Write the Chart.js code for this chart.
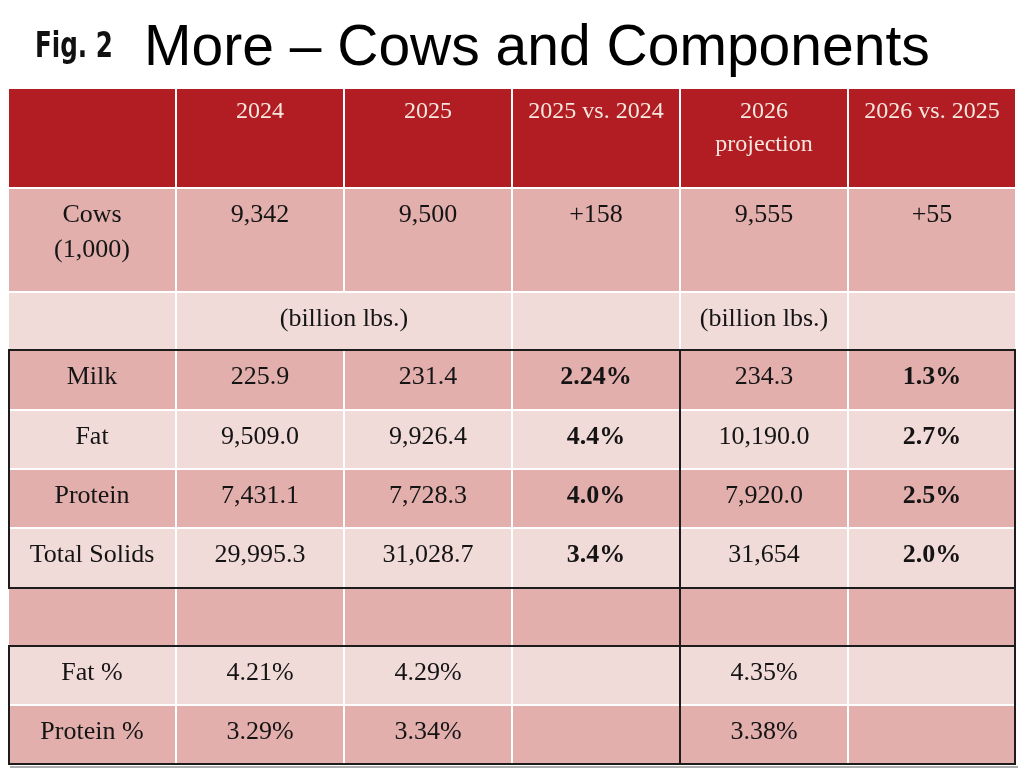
<!DOCTYPE html>
<html>
<head>
<meta charset="utf-8">
<script src="https://cdn.jsdelivr.net/npm/chart.js@4.4.1/dist/chart.umd.min.js"></script>
<style>
  html, body { margin: 0; padding: 0; background: #fff; }
  #wrap { position: relative; width: 1026px; height: 778px; }
  #fig { position: absolute; left: 35px; top: 27px; font: bold 36px/1 "Liberation Sans Narrow", "DejaVu Sans Condensed", sans-serif; color: #111; white-space: nowrap; transform: scaleX(0.76); transform-origin: left top; }
  #title { position: absolute; left: 144px; top: 17px; font: 57px/1 "Liberation Sans", Arial, sans-serif; color: #000; white-space: nowrap; }
</style>
</head>
<body>
<div id="wrap">
  <canvas id="myTable" width="1026" height="778"></canvas>
  <div id="fig">Fig. 2</div>
  <div id="title">More – Cows and Components</div>
</div>
<script>
// table contents
var columns = ['', '2024', '2025', '2025 vs. 2024', ['2026', 'projection'], '2026 vs. 2025'];
var cows = ['9,342', '9,500', '+158', '9,555', '+55'];
var unitLabel = '(billion lbs.)';
var products = ['Milk', 'Fat', 'Protein', 'Total Solids'];
var val2024 = ['225.9', '9,509.0', '7,431.1', '29,995.3'];
var val2025 = ['231.4', '9,926.4', '7,728.3', '31,028.7'];
var chg2025 = ['2.24%', '4.4%', '4.0%', '3.4%'];
var proj2026 = ['234.3', '10,190.0', '7,920.0', '31,654'];
var chg2026 = ['1.3%', '2.7%', '2.5%', '2.0%'];
var ratios = ['Fat %', 'Protein %'];
var ratio2024 = ['4.21%', '3.29%'];
var ratio2025 = ['4.29%', '3.34%'];
var ratio2026 = ['4.35%', '3.38%'];

// layout: row boundaries on the y scale
var rowEdges = [0, 100, 204, 262, 322, 381, 440, 500, 558, 617, 677];

var RED = 'rgb(177, 29, 35)';
var DARK = 'rgb(226, 175, 173)';
var LIGHT = 'rgb(241, 219, 216)';

// rows: text per column, background, which columns are bold
var rows = [];
rows.push({ cells: columns, bg: RED, header: true });
rows.push({ cells: [['Cows', '(1,000)']].concat(cows), bg: DARK });
rows.push({ cells: ['', unitLabel, '', '', unitLabel, ''], bg: LIGHT, merge: 1 });
for (var i = 0; i < products.length; i++) {
  rows.push({
    cells: [products[i], val2024[i], val2025[i], chg2025[i], proj2026[i], chg2026[i]],
    bg: i % 2 == 0 ? DARK : LIGHT,
    bold: [3, 5]
  });
}
rows.push({ cells: ['', '', '', '', '', ''], bg: DARK });
for (var j = 0; j < ratios.length; j++) {
  rows.push({
    cells: [ratios[j], ratio2024[j], ratio2025[j], '', ratio2026[j], ''],
    bg: j % 2 == 0 ? LIGHT : DARK
  });
}

var datasets = rows.map(function (row, r) {
  return {
    label: 'row' + r,
    data: columns.map(function () { return [rowEdges[r], rowEdges[r + 1]]; }),
    backgroundColor: row.bg,
    borderColor: '#ffffff',
    borderWidth: function (ctx) {
      var w = { top: 1, bottom: 1, left: 1, right: 1 };
      if (row.merge != null) {
        if (ctx.dataIndex == row.merge) w.right = 0;
        if (ctx.dataIndex == row.merge + 1) w.left = 0;
      }
      return w;
    },
    borderSkipped: false,
    inflateAmount: 0,
    grouped: false,
    categoryPercentage: 1,
    barPercentage: 1
  };
});

var SERIF = '"Liberation Serif", "DejaVu Serif", serif';

var cellText = {
  id: 'cellText',
  afterDatasetsDraw: function (chart) {
    var ctx = chart.ctx;
    ctx.save();
    ctx.textAlign = 'center';
    ctx.textBaseline = 'middle';
    rows.forEach(function (row, r) {
      var meta = chart.getDatasetMeta(r);
      row.cells.forEach(function (txt, c) {
        if (!txt) return;
        var el = meta.data[c];
        var x = el.x;
        if (row.merge == c) x = (meta.data[c].x + meta.data[c + 1].x) / 2;
        var top = Math.min(el.y, el.base);
        var lines = Array.isArray(txt) ? txt : [txt];
        var bold = row.bold && row.bold.indexOf(c) >= 0;
        if (row.header) {
          ctx.fillStyle = '#f6e7de';
          ctx.font = '24px ' + SERIF;
        } else {
          ctx.fillStyle = '#141414';
          ctx.font = (bold ? 'bold ' : '') + '26px ' + SERIF;
        }
        var off = row.header ? 24 : 27;
        var lh = row.header ? 33 : 35;
        lines.forEach(function (line, k) {
          ctx.fillText(line, x, top + off + k * lh);
        });
      });
    });
    ctx.restore();
  }
};

var blackLines = {
  id: 'blackLines',
  afterDraw: function (chart) {
    var ctx = chart.ctx;
    var xs = chart.scales.x, ys = chart.scales.y;
    var left = chart.chartArea.left, right = chart.chartArea.right;
    var yOf = function (k) { return ys.getPixelForValue(rowEdges[k]); };
    var mid = xs.getPixelForValue(3.5);
    ctx.save();
    // soft shadow under the table
    ctx.strokeStyle = 'rgba(90, 90, 90, 0.5)';
    ctx.lineWidth = 2;
    ctx.beginPath();
    ctx.moveTo(left + 2, yOf(10) + 2);
    ctx.lineTo(right + 2, yOf(10) + 2);
    ctx.stroke();

    ctx.strokeStyle = '#1c1c1c';
    ctx.lineWidth = 2;
    ctx.strokeRect(left + 1, yOf(3), right - left - 2, yOf(7) - yOf(3));
    ctx.strokeRect(left + 1, yOf(8), right - left - 2, yOf(10) - yOf(8) - 1);
    ctx.beginPath();
    ctx.moveTo(mid, yOf(3));
    ctx.lineTo(mid, yOf(10) - 1);
    ctx.moveTo(right - 1, yOf(7));
    ctx.lineTo(right - 1, yOf(8));
    ctx.stroke();
    ctx.restore();
  }
};

var table = document.getElementById('myTable').getContext('2d');

var myTable = new Chart(table, {
  type: 'bar',
  data: {
    labels: columns.map(function (c) { return Array.isArray(c) ? c.join(' ') : c; }),
    datasets: datasets
  },
  options: {
    responsive: false,
    animation: false,
    events: [],
    layout: { padding: { left: 8, right: 10, top: 88, bottom: 13 } },
    scales: {
      x: { type: 'category', display: false, offset: true },
      y: { type: 'linear', display: false, reverse: true, min: 0, max: 677 }
    },
    plugins: {
      legend: { display: false },
      tooltip: { enabled: false },
      title: { display: false }
    }
  },
  plugins: [cellText, blackLines]
});
</script>
</body>
</html>
